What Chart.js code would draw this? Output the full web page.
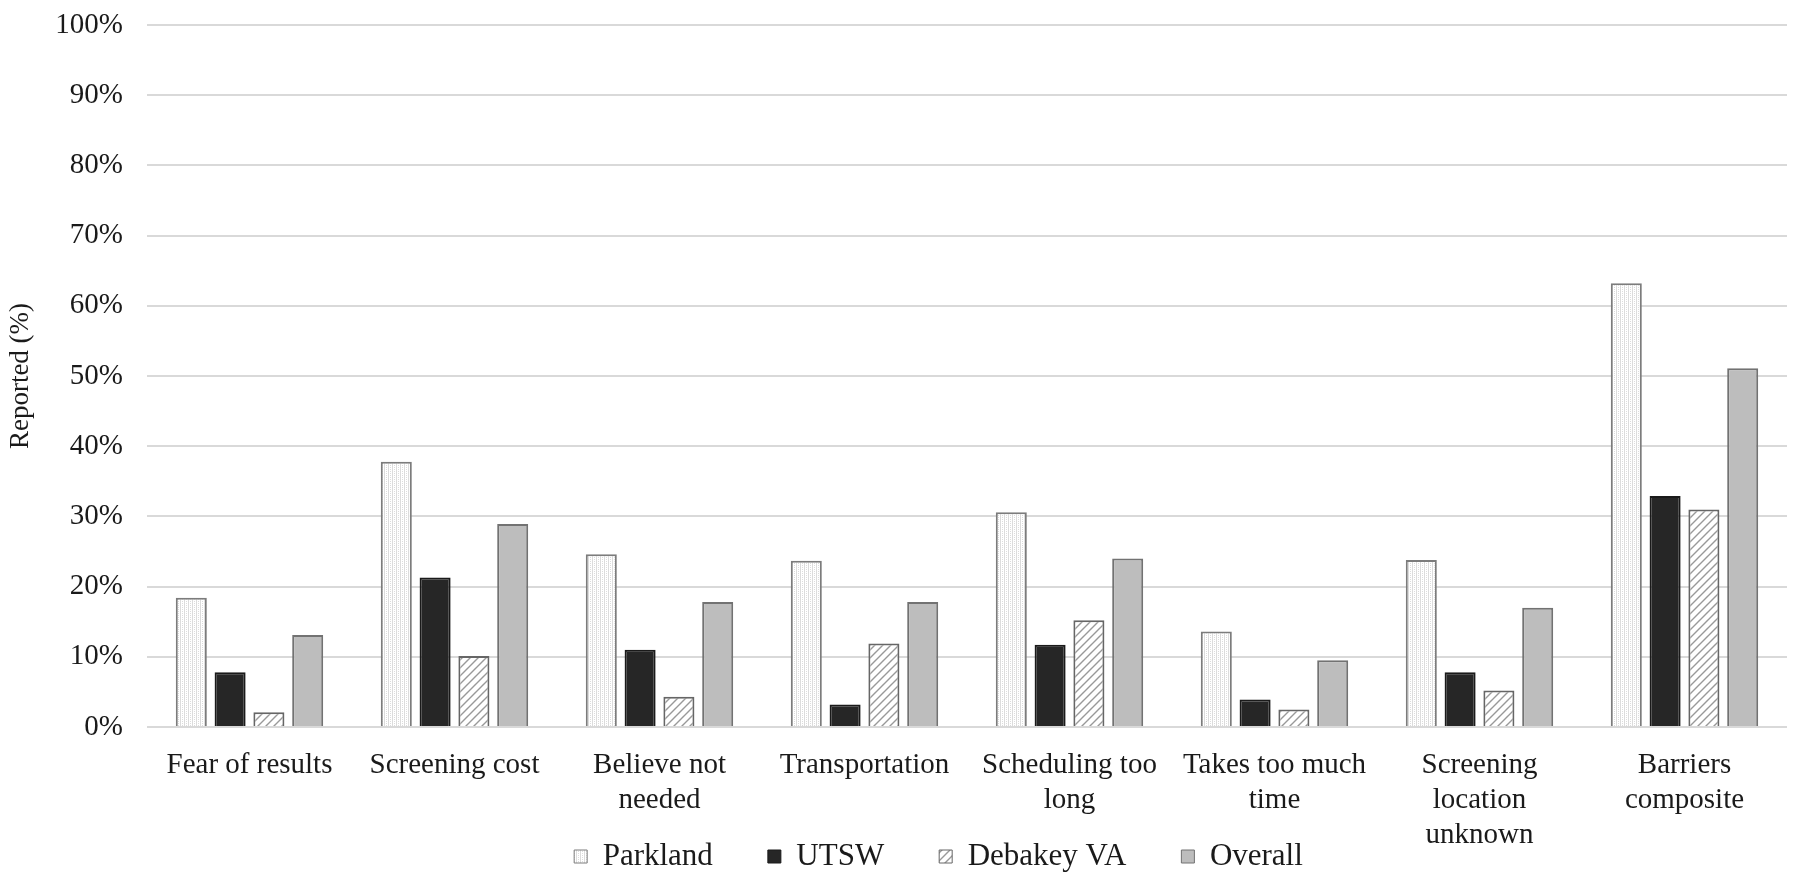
<!DOCTYPE html>
<html>
<head>
<meta charset="utf-8">
<title>Reported barriers</title>
<script src="https://cdn.jsdelivr.net/npm/chart.js"></script>
<style>
  html, body { margin: 0; padding: 0; background: #fff; }
  #wrap { width: 1800px; height: 896px; }
</style>
</head>
<body>
<div id="wrap"><canvas id="barrierChart" width="1800" height="896"></canvas></div>
<script>
// categories and values
const categories = [
  'Fear of results',
  'Screening cost',
  ['Believe not', 'needed'],
  'Transportation',
  ['Scheduling too', 'long'],
  ['Takes too much', 'time'],
  ['Screening', 'location', 'unknown'],
  ['Barriers', 'composite']
];
const parkland  = [18.4, 37.8, 24.6, 23.7, 30.6, 13.6, 23.8, 63.2];
const utsw      = [7.8, 21.3, 11.0, 3.2, 11.7, 3.9, 7.8, 32.9];
const debakeyVA = [2.1, 10.1, 4.3, 11.9, 15.2, 2.5, 5.2, 31.0];
const overall   = [13.1, 28.9, 17.8, 17.8, 24.0, 9.5, 17.0, 51.1];
const yTicks = [0, 10, 20, 30, 40, 50, 60, 70, 80, 90, 100];

const serif = "'Liberation Serif', 'Times New Roman', serif";

// fill patterns similar to the excel ones
function makePattern(size, draw) {
  const c = document.createElement('canvas');
  c.width = size; c.height = size;
  const g = c.getContext('2d');
  g.fillStyle = '#ffffff';
  g.fillRect(0, 0, size, size);
  draw(g, size);
  return c.getContext('2d').createPattern(c, 'repeat');
}

const dotted = makePattern(4, (g) => {
  g.fillStyle = '#dcdcdc';
  g.fillRect(0, 0, 1, 4);
  g.fillRect(2, 1, 1, 1);
  g.fillRect(2, 3, 1, 1);
});

const hatch = makePattern(8, (g, s) => {
  g.strokeStyle = '#999999';
  g.lineWidth = 1.4;
  g.beginPath();
  g.moveTo(0, s); g.lineTo(s, 0);
  g.moveTo(-2, 2); g.lineTo(2, -2);
  g.moveTo(s - 2, s + 2); g.lineTo(s + 2, s - 2);
  g.stroke();
});

// the legend sits tight under the wrapped axis labels, a bit right of centre.
// legend clips to its own box, so stretch the box down to the canvas edge
const legendNudge = {
  id: 'legendNudge',
  afterLayout(chart) {
    const lg = chart.legend;
    lg.top -= 64;
    lg.bottom = chart.height;
    lg.left += 45; lg.right += 45;
  }
};

const ctx = document.getElementById('barrierChart').getContext('2d');
new Chart(ctx, {
  type: 'bar',
  data: {
    labels: categories,
    datasets: [
      { label: 'Parkland', data: parkland, backgroundColor: dotted, borderColor: '#7c7c7c', borderWidth: 2 },
      { label: 'UTSW', data: utsw, backgroundColor: '#262626', borderColor: '#1a1a1a', borderWidth: 2 },
      { label: 'Debakey VA', data: debakeyVA, backgroundColor: hatch, borderColor: '#666666', borderWidth: 2 },
      { label: 'Overall', data: overall, backgroundColor: '#bdbdbd', borderColor: '#727272', borderWidth: 2 }
    ]
  },
  plugins: [legendNudge],
  options: {
    responsive: false,
    animation: false,
    layout: { padding: { top: 25, right: 13, bottom: 6, left: 0 } },
    categoryPercentage: 0.757,
    barPercentage: 0.8,
    plugins: {
      tooltip: { enabled: false },
      legend: {
        position: 'bottom',
        maxHeight: 40,
        labels: {
          font: { family: serif, size: 31 },
          color: '#1a1a1a',
          boxWidth: 13,
          boxHeight: 13,
          padding: 55,
          generateLabels(chart) {
            return chart.data.datasets.map((ds, i) => ({
              text: ds.label,
              fillStyle: ds.backgroundColor,
              strokeStyle: ds.borderColor,
              lineWidth: 1,
              datasetIndex: i,
              fontColor: '#1a1a1a'
            }));
          }
        }
      }
    },
    scales: {
      x: {
        grid: { display: false },
        border: { display: false },
        ticks: {
          font: { family: serif, size: 29, lineHeight: 1.2 },
          color: '#1a1a1a',
          maxRotation: 0,
          autoSkip: false,
          padding: 13
        },
        afterFit(scale) { scale.height = 123; }
      },
      y: {
        min: 0,
        max: 100,
        afterBuildTicks(scale) { scale.ticks = yTicks.map(v => ({ value: v })); },
        grid: { color: '#d9d9d9', lineWidth: 2, drawTicks: false },
        border: { display: false },
        ticks: {
          font: { family: serif, size: 29 },
          color: '#1a1a1a',
          padding: 24,
          callback: (v) => v + '%'
        },
        title: {
          display: true,
          text: 'Reported (%)',
          font: { family: serif, size: 27 },
          color: '#1a1a1a',
          padding: { top: 5, bottom: 0 }
        },
        afterFit(scale) {
          scale.width = 147;
          scale.paddingTop = 0;
          scale.paddingBottom = 0;
        }
      }
    }
  }
});
</script>
</body>
</html>
